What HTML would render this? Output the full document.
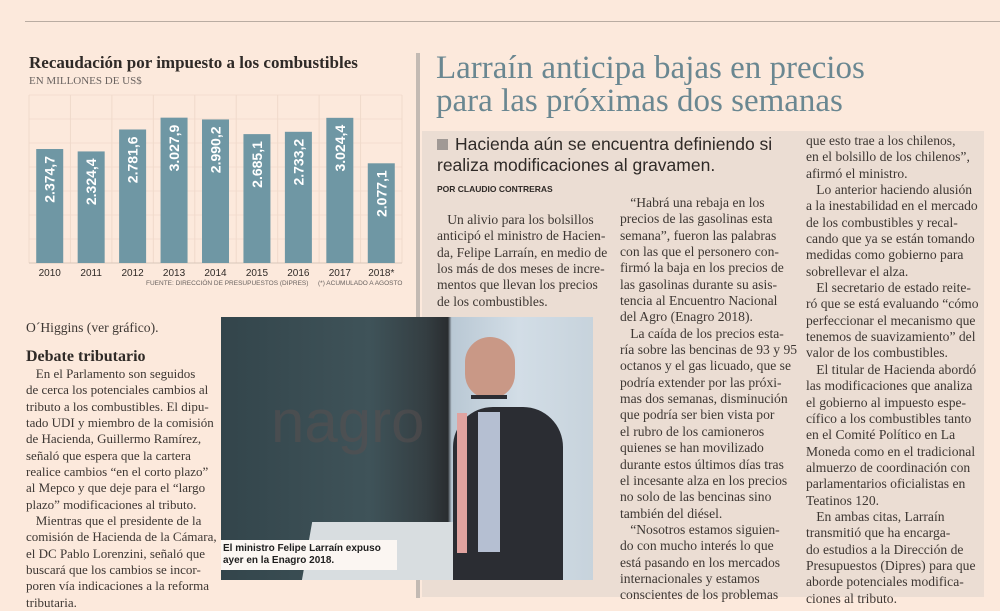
<!DOCTYPE html>
<html><head><meta charset="utf-8">
<style>
body{margin:0;width:1000px;height:611px;background:#fce9dc;position:relative;overflow:hidden;font-family:"Liberation Serif",serif;color:#3a3430}
.abs{position:absolute}
.txt{position:absolute;font-size:13.6px;line-height:16.35px;white-space:pre;color:#3d3733}
</style></head><body>
<div class="abs" style="left:25px;top:21px;width:975px;height:1px;background:#b9aca2"></div>
<div class="abs" style="left:416px;top:53px;width:4px;height:545px;background:#c3bab3"></div>
<div class="abs" style="left:422px;top:131px;width:562px;height:466px;background:#ebddd3"></div>

<div class="abs" style="left:29px;top:53px;font-size:17px;font-weight:bold;color:#2f2a27">Recaudación por impuesto a los combustibles</div>
<div class="abs" style="left:29px;top:75px;font-size:11px;color:#6a6360">EN MILLONES DE US$</div>
<svg class="abs" style="left:0;top:0" width="420" height="300" id="chart"></svg>
<div class="abs" style="left:146px;top:280px;font-family:'Liberation Sans',sans-serif;font-size:6.5px;color:#6a6360">FUENTE: DIRECCIÓN DE PRESUPUESTOS (DIPRES)</div>
<div class="abs" style="left:318px;top:280px;font-family:'Liberation Sans',sans-serif;font-size:6.5px;color:#6a6360">(*) ACUMULADO A AGOSTO</div>

<div class="abs" style="left:436px;top:52px;font-size:33px;line-height:33px;color:#6a8791;white-space:pre">Larraín anticipa bajas en precios
para las próximas dos semanas</div>
<div class="abs" style="left:437px;top:134px;font-family:'Liberation Sans',sans-serif;font-size:17.5px;line-height:21px;color:#2f2a27;white-space:pre"><span style="display:inline-block;width:11px;height:11px;background:#a09995;margin-right:7px"></span>Hacienda aún se encuentra definiendo si
realiza modificaciones al gravamen.</div>
<div class="abs" style="left:437px;top:184px;font-family:'Liberation Sans',sans-serif;font-size:8.5px;font-weight:bold;color:#2f2a27">POR CLAUDIO CONTRERAS</div>

<div class="txt" style="left:437px;top:212px">   Un alivio para los bolsillos
anticipó el ministro de Hacien-
da, Felipe Larraín, en medio de
los más de dos meses de incre-
mentos que llevan los precios
de los combustibles.</div>
<div class="txt" style="left:620px;top:195px">   “Habrá una rebaja en los
precios de las gasolinas esta
semana”, fueron las palabras
con las que el personero con-
firmó la baja en los precios de
las gasolinas durante su asis-
tencia al Encuentro Nacional
del Agro (Enagro 2018).
   La caída de los precios esta-
ría sobre las bencinas de 93 y 95
octanos y el gas licuado, que se
podría extender por las próxi-
mas dos semanas, disminución
que podría ser bien vista por
el rubro de los camioneros
quienes se han movilizado
durante estos últimos días tras
el incesante alza en los precios
no solo de las bencinas sino
también del diésel.
   “Nosotros estamos siguien-
do con mucho interés lo que
está pasando en los mercados
internacionales y estamos
conscientes de los problemas</div>
<div class="txt" style="left:806px;top:133px">que esto trae a los chilenos,
en el bolsillo de los chilenos”,
afirmó el ministro.
   Lo anterior haciendo alusión
a la inestabilidad en el mercado
de los combustibles y recal-
cando que ya se están tomando
medidas como gobierno para
sobrellevar el alza.
   El secretario de estado reite-
ró que se está evaluando “cómo
perfeccionar el mecanismo que
tenemos de suavizamiento” del
valor de los combustibles.
   El titular de Hacienda abordó
las modificaciones que analiza
el gobierno al impuesto espe-
cífico a los combustibles tanto
en el Comité Político en La
Moneda como en el tradicional
almuerzo de coordinación con
parlamentarios oficialistas en
Teatinos 120.
   En ambas citas, Larraín
transmitió que ha encarga-
do estudios a la Dirección de
Presupuestos (Dipres) para que
aborde potenciales modifica-
ciones al tributo.</div>

<div class="txt" style="left:26px;top:320px">O´Higgins (ver gráfico).</div>
<div class="abs" style="left:26px;top:348px;font-size:16px;font-weight:bold;color:#2f2a27">Debate tributario</div>
<div class="txt" style="left:26px;top:366px;font-size:13px">   En el Parlamento son seguidos
de cerca los potenciales cambios al
tributo a los combustibles. El dipu-
tado UDI y miembro de la comisión
de Hacienda, Guillermo Ramírez,
señaló que espera que la cartera
realice cambios “en el corto plazo”
al Mepco y que deje para el “largo
plazo” modificaciones al tributo.
   Mientras que el presidente de la
comisión de Hacienda de la Cámara,
el DC Pablo Lorenzini, señaló que
buscará que los cambios se incor-
poren vía indicaciones a la reforma
tributaria.</div>

<div class="abs" style="left:221px;top:317px;width:372px;height:263px;background:linear-gradient(90deg,#33454b 0%,#3f5359 40%,#343e42 55%,#2a2d30 61%,#b9c8d4 62%,#d2dde6 80%,#c7d3dc 100%);overflow:hidden">
  <div class="abs" style="left:50px;top:70px;font-family:'Liberation Sans',sans-serif;font-size:60px;color:#5b5050;opacity:.5">nagro</div>
  <div class="abs" style="left:85px;top:205px;width:180px;height:70px;background:#d8dde0;transform:skewX(-10deg)"></div>
  <div class="abs" style="left:232px;top:90px;width:110px;height:180px;background:#2b2d33;border-radius:40px 40px 0 0"></div>
  <div class="abs" style="left:244px;top:20px;width:50px;height:62px;background:#c99886;border-radius:25px"></div>
  <div class="abs" style="left:250px;top:78px;width:36px;height:4px;background:#2b2d33"></div>
  <div class="abs" style="left:257px;top:95px;width:22px;height:140px;background:#b5bfd2"></div>
  <div class="abs" style="left:236px;top:96px;width:10px;height:140px;background:#e0a3a0"></div>
</div>
<div class="abs" style="left:221px;top:540px;width:176px;height:30px;background:#fbf6f2;font-family:'Liberation Sans',sans-serif;font-size:10px;font-weight:bold;line-height:11.5px;color:#1e1e1e;padding:3px 0 0 2px;box-sizing:border-box;white-space:pre">El ministro Felipe Larraín expuso
ayer en la Enagro 2018.</div>

<script>
const years = ["2010","2011","2012","2013","2014","2015","2016","2017","2018*"];
const values = [2374.7,2324.4,2781.6,3027.9,2990.2,2685.1,2733.2,3024.4,2077.1];
const labels = ["2.374,7","2.324,4","2.781,6","3.027,9","2.990,2","2.685,1","2.733,2","3.024,4","2.077,1"];
const gridValues = [500,1000,1500,2000,2500,3000,3500];
const NS="http://www.w3.org/2000/svg";
const svg=document.getElementById('chart');
const x0=29,x1=402,yBase=263,yTop=95,yMax=3500;
const cw=(x1-x0)/years.length;
const y=v=>yBase-(v/yMax)*(yBase-yTop);
const xc=i=>x0+cw*(i+0.5);
function mk(t,a){const e=document.createElementNS(NS,t);for(const k in a)e.setAttribute(k,a[k]);svg.appendChild(e);return e;}
gridValues.forEach(v=>{const l=mk('line',{x1:x0,x2:x1,y1:y(v),y2:y(v),stroke:'#f3ddd0','stroke-width':1});

});
for(let i=0;i<=years.length;i++){const l=mk('line',{x1:x0+cw*i,x2:x0+cw*i,y1:yTop,y2:yBase,stroke:'#f0dacb','stroke-width':1});

}
const bl=mk('line',{x1:x0,x2:x1,y1:yBase,y2:yBase,stroke:'#d9c6ba','stroke-width':1});


years.forEach((yr,i)=>{
 const bw=27;
 const r=mk('rect',{x:xc(i)-bw/2,y:y(values[i]),width:bw,height:yBase-y(values[i]),fill:'#6f97a4'});
 
 
 const ty=y(values[i])+7;
 const t=mk('text',{x:0,y:0,transform:`translate(${xc(i)+5},${ty}) rotate(-90)`,'text-anchor':'end','font-family':'Liberation Sans, sans-serif','font-size':'14','font-weight':'bold',fill:'#ffffff'});
 t.textContent=labels[i];
 
 
 const xl=mk('text',{x:xc(i),y:276,'text-anchor':'middle','font-family':'Liberation Sans, sans-serif','font-size':'10',fill:'#2f2a27'});
 xl.textContent=yr;
 
 
});
</script>
</body></html>
